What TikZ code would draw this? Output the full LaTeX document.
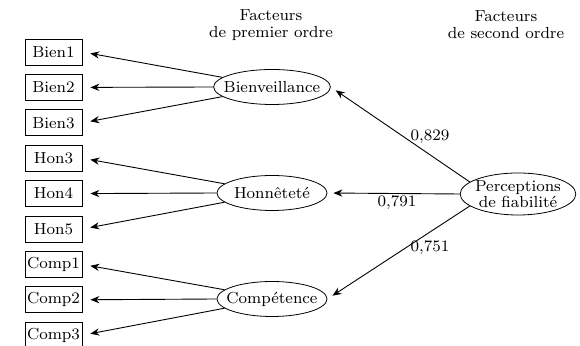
\documentclass[tikz,border=0pt]{standalone}
\usetikzlibrary{shapes.geometric,arrows.meta}
\tikzset{ind/.style={draw, line width=.4pt, minimum width=28.5pt, minimum height=13pt, inner sep=0pt, font=\fontsize{8}{9}\selectfont}}
\tikzset{fac/.style={draw, ellipse, line width=.4pt, minimum width=55pt, minimum height=17.5pt, inner xsep=-3.5pt, inner ysep=0pt, font=\fontsize{8}{9}\selectfont}}
\tikzset{edge/.style={line width=.45pt, -{Stealth[length=4.5pt,width=3.6pt]}}}
\tikzset{lbl/.style={inner sep=0pt, align=center, font=\fontsize{8}{8.6}\selectfont}}

\begin{document}
\begin{tikzpicture}[x=.5pt,y=-.5pt]
  \useasboundingbox (0,0) rectangle (580,346);

  \node[lbl] (head1) at (271,25) {Facteurs\\de premier ordre};
  \node[lbl] (head2) at (506,25) {Facteurs\\de second ordre};

  \node[ind] (bien1) at (53.5,52) {Bien1};
  \node[ind] (bien2) at (53.5,87.4) {Bien2};
  \node[ind] (bien3) at (53.5,122.8) {Bien3};
  \node[ind] (hon3) at (53.5,158.2) {Hon3};
  \node[ind] (hon4) at (53.5,193.6) {Hon4};
  \node[ind] (hon5) at (53.5,229) {Hon5};
  \node[ind] (comp1) at (53.5,264.4) {Comp1};
  \node[ind] (comp2) at (53.5,299.8) {Comp2};
  \node[ind] (comp3) at (53.5,335.2) {Comp3};

  \node[fac] (bienv) at (272,87) {Bienveillance};
  \node[fac] (honn) at (272,193) {Honnêteté};
  \node[fac] (compet) at (272,299) {Compétence};
  \node[fac, minimum width=55.5pt, minimum height=21pt, inner xsep=-1pt, align=center, font=\fontsize{8}{8}\selectfont] (percep) at (518,194) {Perceptions\\de fiabilité};

    \draw[edge, shorten >=4pt] (bienv.169) -- (bien1.east);
    \draw[edge, shorten >=4pt] (bienv.west) -- (bien2.east);
    \draw[edge, shorten >=4pt] (bienv.191) -- (bien3.east);
    \draw[edge, shorten >=4pt] (honn.169) -- (hon3.east);
    \draw[edge, shorten >=4pt] (honn.west) -- (hon4.east);
    \draw[edge, shorten >=4pt] (honn.191) -- (hon5.east);
    \draw[edge, shorten >=4pt] (compet.169) -- (comp1.east);
    \draw[edge, shorten >=4pt] (compet.west) -- (comp2.east);
    \draw[edge, shorten >=4pt] (compet.191) -- (comp3.east);

    \draw[edge, shorten >=3pt] (percep.166) -- (bienv.east);
    \draw[edge, shorten >=3pt] (percep.west) -- (honn.east);
    \draw[edge, shorten >=3pt] (percep.194) -- (compet.east);

  \node[lbl] (w1) at (430,137) {0,829};
  \node[lbl] (w2) at (397,203) {0,791};
  \node[lbl] (w3) at (430,248) {0,751};
\end{tikzpicture}
\end{document}
